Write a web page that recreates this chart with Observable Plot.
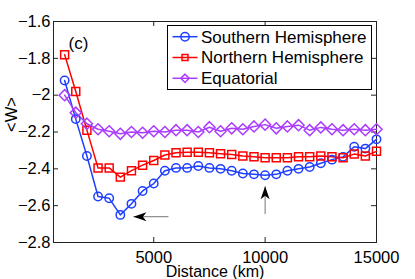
<!DOCTYPE html>
<html><head><meta charset="utf-8">
<script src="https://cdn.jsdelivr.net/npm/d3@7"></script>
<script src="https://cdn.jsdelivr.net/npm/@observablehq/plot@0.6"></script>
<style>
html,body{margin:0;padding:0;background:#fff;}
#chart{width:415px;height:279px;overflow:hidden;position:relative}
</style></head><body><div id="chart"></div>
<script>
const distance = [1000,1500,2000,2500,3000,3500,4000,4500,5000,5500,6000,6500,7000,7500,8000,8500,9000,9500,10000,10500,11000,11500,12000,12500,13000,13500,14000,14500,15000];
const southern = [-1.92,-2.13,-2.33,-2.55,-2.56,-2.65,-2.59,-2.52,-2.48,-2.41,-2.395,-2.395,-2.385,-2.395,-2.40,-2.41,-2.425,-2.43,-2.435,-2.43,-2.41,-2.40,-2.39,-2.37,-2.35,-2.335,-2.28,-2.29,-2.24];
const northern = [-1.78,-1.98,-2.19,-2.395,-2.395,-2.445,-2.41,-2.38,-2.355,-2.325,-2.313,-2.31,-2.31,-2.313,-2.318,-2.322,-2.33,-2.335,-2.34,-2.34,-2.34,-2.335,-2.335,-2.33,-2.335,-2.34,-2.32,-2.33,-2.305];
const equatorial = [-2.0,-2.095,-2.155,-2.185,-2.196,-2.21,-2.20,-2.204,-2.196,-2.20,-2.19,-2.19,-2.20,-2.174,-2.196,-2.18,-2.185,-2.17,-2.16,-2.18,-2.17,-2.163,-2.19,-2.175,-2.185,-2.19,-2.185,-2.19,-2.185];
const seriesNames = ["Southern Hemisphere","Northern Hemisphere","Equatorial"];
const seriesColors = ["#1f3fff","#ff0000","#aa3cff"];
const seriesSymbols = ["circle","square","diamond2"];
const xTicks = [5000,10000,15000];
const yTicks = [-2.8,-2.6,-2.4,-2.2,-2,-1.8,-1.6];
const arrowTailX = [5660,10000];
const arrowTailY = [-2.66,-2.646];
const arrowTipX = [4088,10000];
const arrowTipY = [-2.66,-2.495];
const arrowRotate = [-90,0];
const panelLabel = "(c)";
const xLabel = "Distance (km)";
const yLabel = "<W>";

const valuesBySeries = [southern, northern, equatorial];
const rows = [];
seriesNames.forEach((s, i) => distance.forEach((d, j) => rows.push({series: s, distance: d, value: valuesBySeries[i][j]})));
const arrows = arrowTailX.map((_, i) => ({x1: arrowTailX[i], y1: arrowTailY[i], x2: arrowTipX[i], y2: arrowTipY[i], rot: arrowRotate[i]}));

const W = 415, H = 279, mL = 53, mR = 39, mT = 21, mB = 37;
const fw = W - mL - mR, fh = H - mT - mB;
const font = "'Liberation Sans', Arial, Helvetica, sans-serif";

const arrowHead = {draw(ctx) { ctx.moveTo(0,0); ctx.lineTo(4.5,13); ctx.lineTo(0,9.5); ctx.lineTo(-4.5,13); ctx.closePath(); }};

const marks = [
  Plot.frame({stroke: "#222"}),
  Plot.tickY(yTicks, {y: d => d, insetRight: fw - 5, stroke: "#222"}),
  Plot.tickY(yTicks, {y: d => d, insetLeft: fw - 5, stroke: "#222"}),
  Plot.tickX(xTicks, {x: d => d, insetTop: fh - 5, stroke: "#222"}),
  Plot.tickX(xTicks, {x: d => d, insetBottom: fh - 5, stroke: "#222"}),
  Plot.axisY(yTicks, {tickSize: 0, tickPadding: 3, label: null, fill: "#000", tickFormat: d => String(d).replace("-", "\u2212")}),
  Plot.axisX(xTicks, {tickSize: 0, tickPadding: 9, tickFormat: d => String(d), label: null, fill: "#000"}),
  Plot.link(arrows, {x1: "x1", y1: "y1", x2: "x2", y2: "y2", stroke: "#777", strokeWidth: 1}),
  Plot.dot(arrows, {x: "x2", y: "y2", symbol: arrowHead, rotate: "rot", fill: "#000", stroke: null, r: 5})
];
seriesNames.forEach((s, i) => {
  const data = rows.filter(r => r.series === s);
  marks.push(Plot.line(data, {x: "distance", y: "value", stroke: seriesColors[i], strokeWidth: 1.5}));
});
seriesNames.forEach((s, i) => {
  const data = rows.filter(r => r.series === s);
  const r = i === 0 ? 4.2 : (i === 1 ? 4.5 : 5);
  marks.push(Plot.dot(data, {x: "distance", y: "value", stroke: seriesColors[i], symbol: () => seriesSymbols[i], r, strokeWidth: 1.5, fill: "none"}));
});
marks.push(Plot.text([panelLabel], {frameAnchor: "top-left", lineAnchor: "middle", dx: 15, dy: 22, textAnchor: "start", fontSize: 17}));
marks.push(Plot.text([xLabel], {frameAnchor: "bottom", lineAnchor: "middle", dy: 29, fontSize: 16}));
marks.push(Plot.text([yLabel], {frameAnchor: "left", lineAnchor: "middle", dx: -42, rotate: -90, fontSize: 16.5}));

const chart = Plot.plot({
  width: W, height: H,
  marginLeft: mL, marginRight: mR, marginTop: mT, marginBottom: mB,
  x: {domain: [500, 15000]},
  y: {domain: [-2.8, -1.6]},
  symbol: {type: "identity"},
  style: {fontFamily: font, fontSize: "16.5px", color: "#000", background: "#fff"},
  marks
});
document.getElementById("chart").appendChild(chart);

// legend inside the SVG, top-right of the frame
const svg = d3.select(chart);
const lg = svg.append("g").attr("font-family", font).attr("font-size", 17).attr("text-anchor", "start");
lg.append("rect").attr("x", 167.5).attr("y", 25.5).attr("width", 204).attr("height", 64)
  .attr("fill", "#fff").attr("stroke", "#000").attr("stroke-width", 1);
const symTypes = [d3.symbolCircle, d3.symbolSquare, d3.symbolDiamond2];
const symSizes = [Math.PI*4.2*4.2, Math.PI*4.5*4.5*0.55, Math.PI*5*5*0.55];
seriesNames.forEach((s, i) => {
  const cy = 36.7 + i * 20.8;
  lg.append("line").attr("x1", 172.5).attr("x2", 197.5).attr("y1", cy).attr("y2", cy)
    .attr("stroke", seriesColors[i]).attr("stroke-width", 1.5);
  lg.append("path").attr("d", d3.symbol().type(symTypes[i]).size(symSizes[i])())
    .attr("transform", `translate(185,${cy})`).attr("fill", "none")
    .attr("stroke", seriesColors[i]).attr("stroke-width", 1.5);
  lg.append("text").attr("x", 201).attr("y", cy).attr("dy", "0.35em").attr("fill", "#000").attr("text-anchor", "start").text(s);
});
</script></body></html>
